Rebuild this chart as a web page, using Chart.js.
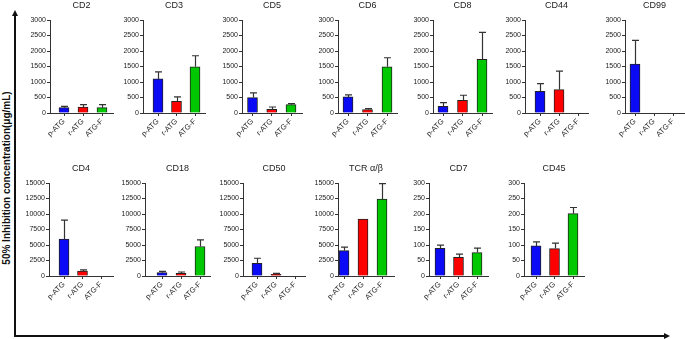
<!DOCTYPE html>
<html>
<head>
<meta charset="utf-8">
<script src="https://cdn.jsdelivr.net/npm/chart.js@4"></script>
<style>
  html, body { margin: 0; padding: 0; background: #fff; overflow: hidden; }
  body { width: 685px; height: 339px; position: relative; font-family: "Liberation Sans", Arial, sans-serif; }
  canvas { position: absolute; }
  .vline { position: absolute; left: 14px; top: 14px; width: 1.5px; height: 322px; background: #111; }
  .hline { position: absolute; left: 14px; top: 335px; width: 652px; height: 1.5px; background: #111; }
  .up { position: absolute; left: 12px; top: 10px; width: 0; height: 0;
        border-left: 3px solid transparent; border-right: 3px solid transparent; border-bottom: 6px solid #111; }
  .right { position: absolute; left: 664px; top: 333px; width: 0; height: 0;
        border-top: 3px solid transparent; border-bottom: 3px solid transparent; border-left: 6px solid #111; }
  .ylab { position: absolute; left: 6px; top: 178px; transform: translate(-50%, -50%) rotate(-90deg);
          white-space: nowrap; font-weight: bold; font-size: 10px; color: #111; }
</style>
</head>
<body>
<div class="vline"></div><div class="up"></div>
<div class="hline"></div><div class="right"></div>
<div class="ylab">50% Inhibition concentration(μg/mL)</div>
<script>
// ---- data: mean IC50 and upper SD per marker
const CATEGORIES = ["p-ATG", "r-ATG", "ATG-F"];
const TITLES = ["CD2", "CD3", "CD5", "CD6", "CD8", "CD44", "CD99",
                "CD4", "CD18", "CD50", "TCR α/β", "CD7", "CD45"];
const MEANS = [
  [173, 194, 173], [1100, 378, 1490], [497, 119, 270], [518, 108, 1490],
  [216, 410, 1728], [702, 756, null], [1577, null, null],
  [5940, 810, null], [540, 432, 4752], [2052, 270, null], [4104, 9180, 12420],
  [89.6, 60.5, 75.6], [97, 88.5, 201],
];
const SDS = [
  [43, 76, 97], [228, 140, 357], [151, 75, 32], [65, 32, 292],
  [119, 162, 874], [248, 594, 0], [766, 0, 0],
  [3077, 162, 0], [216, 216, 1080], [810, 162, 0], [540, 0, 2483],
  [10, 10, 14], [13, 17.5, 20],
];
const Y_TICKS_3000 = [0, 500, 1000, 1500, 2000, 2500, 3000];
const Y_TICKS_15000 = [0, 2500, 5000, 7500, 10000, 12500, 15000];
const Y_TICKS_300 = [0, 50, 100, 150, 200, 250, 300];
const PANEL_TICKS = [Y_TICKS_3000, Y_TICKS_3000, Y_TICKS_3000, Y_TICKS_3000, Y_TICKS_3000, Y_TICKS_3000, Y_TICKS_3000,
                     Y_TICKS_15000, Y_TICKS_15000, Y_TICKS_15000, Y_TICKS_15000, Y_TICKS_300, Y_TICKS_300];

// ---- layout: y-axis x, first/last bar centre, x-axis end, plot top (px)
const LAYOUT = [
  [50, 64, 102, 113, 20], [143, 158, 195, 205, 20], [242, 252.5, 291, 302, 20], [338, 348, 387, 397, 20],
  [433, 443, 482, 492, 20], [525, 540, 578, 588, 20], [625, 635, 673, 684, 20],
  [49, 64, 101, 113, 183], [145, 162, 200, 210, 183], [243, 257, 295, 305, 183], [338, 344, 382, 394, 183],
  [429, 440, 477, 488, 183], [524, 536, 573, 584, 183],
];
const COLORS = ["#0a0af5", "#ff0000", "#00c800"];
const FONT = "'Liberation Sans', Arial, sans-serif";
const AXW = 36, PLOT_H = 93, XH = 42;

// error whiskers (upward only) + panel title centred over the plot
const extras = {
  id: "extras",
  afterDatasetsDraw(chart, args, o) {
    const { ctx, scales: { x, y }, chartArea: a } = chart;
    ctx.save();
    ctx.strokeStyle = "#333"; ctx.lineWidth = 1.2;
    o.means.forEach((m, i) => {
      if (m == null || !o.sds[i]) return;
      const px = Math.round(x.getPixelForValue(i)) + 0.5;
      const y0 = y.getPixelForValue(m), y1 = y.getPixelForValue(m + o.sds[i]);
      ctx.beginPath();
      ctx.moveTo(px, y0); ctx.lineTo(px, y1);
      ctx.moveTo(px - 3.5, y1); ctx.lineTo(px + 3.5, y1);
      ctx.stroke();
    });
    ctx.fillStyle = "#222"; ctx.font = "9px " + FONT;
    ctx.textAlign = "center"; ctx.textBaseline = "alphabetic";
    ctx.fillText(o.title, (a.left + a.right) / 2, a.top - 12);
    ctx.restore();
  },
};

TITLES.forEach((title, k) => {
  const [ax, c0, c2, end, top] = LAYOUT[k];
  const s = (c2 - c0) / 2;
  const ticks = PANEL_TICKS[k];
  const cv = document.createElement("canvas");
  const w = AXW + (end - ax) + 1, h = 20 + PLOT_H + XH;
  cv.width = w; cv.height = h;
  cv.style.left = (ax - AXW) + "px"; cv.style.top = (top - 20) + "px";
  cv.style.width = w + "px"; cv.style.height = h + "px";
  document.body.appendChild(cv);

  new Chart(cv, {
    type: "bar",
    data: {
      datasets: [{
        data: MEANS[k].map((v, i) => ({ x: i, y: v })),
        backgroundColor: COLORS, borderColor: "#222", borderWidth: 1,
        barThickness: 10,
      }],
    },
    options: {
      responsive: false, animation: false, devicePixelRatio: 1,
      layout: { padding: { top: 20, right: 1, left: 0, bottom: 0 } },
      plugins: { legend: { display: false }, tooltip: { enabled: false },
        extras: { title, means: MEANS[k], sds: SDS[k] } },
      scales: {
        x: {
          type: "linear", offset: false,
          min: -(c0 - ax) / s, max: 2 + (end - c2) / s,
          afterBuildTicks: sc => { sc.ticks = [0, 1, 2].map(v => ({ value: v })); },
          afterFit: sc => { sc.height = XH; },
          grid: { offset: false, drawOnChartArea: false, drawTicks: true, tickLength: 3, color: "#333" },
          border: { color: "#333", width: 1 },
          ticks: { minRotation: 45, maxRotation: 45, padding: 1, autoSkip: false,
                   color: "#222", font: { family: FONT, size: 7.5 },
                   callback: v => CATEGORIES[v] },
        },
        y: {
          min: ticks[0], max: ticks[ticks.length - 1],
          afterBuildTicks: sc => { sc.ticks = ticks.map(v => ({ value: v })); },
          afterFit: sc => { sc.width = AXW; },
          grid: { drawOnChartArea: false, drawTicks: true, tickLength: 3, color: "#333" },
          border: { color: "#333", width: 1 },
          ticks: { padding: 1, color: "#222", font: { family: FONT, size: 7 },
                   callback: v => String(v) },
        },
      },
    },
    plugins: [extras],
  });
});
</script>
</body>
</html>
